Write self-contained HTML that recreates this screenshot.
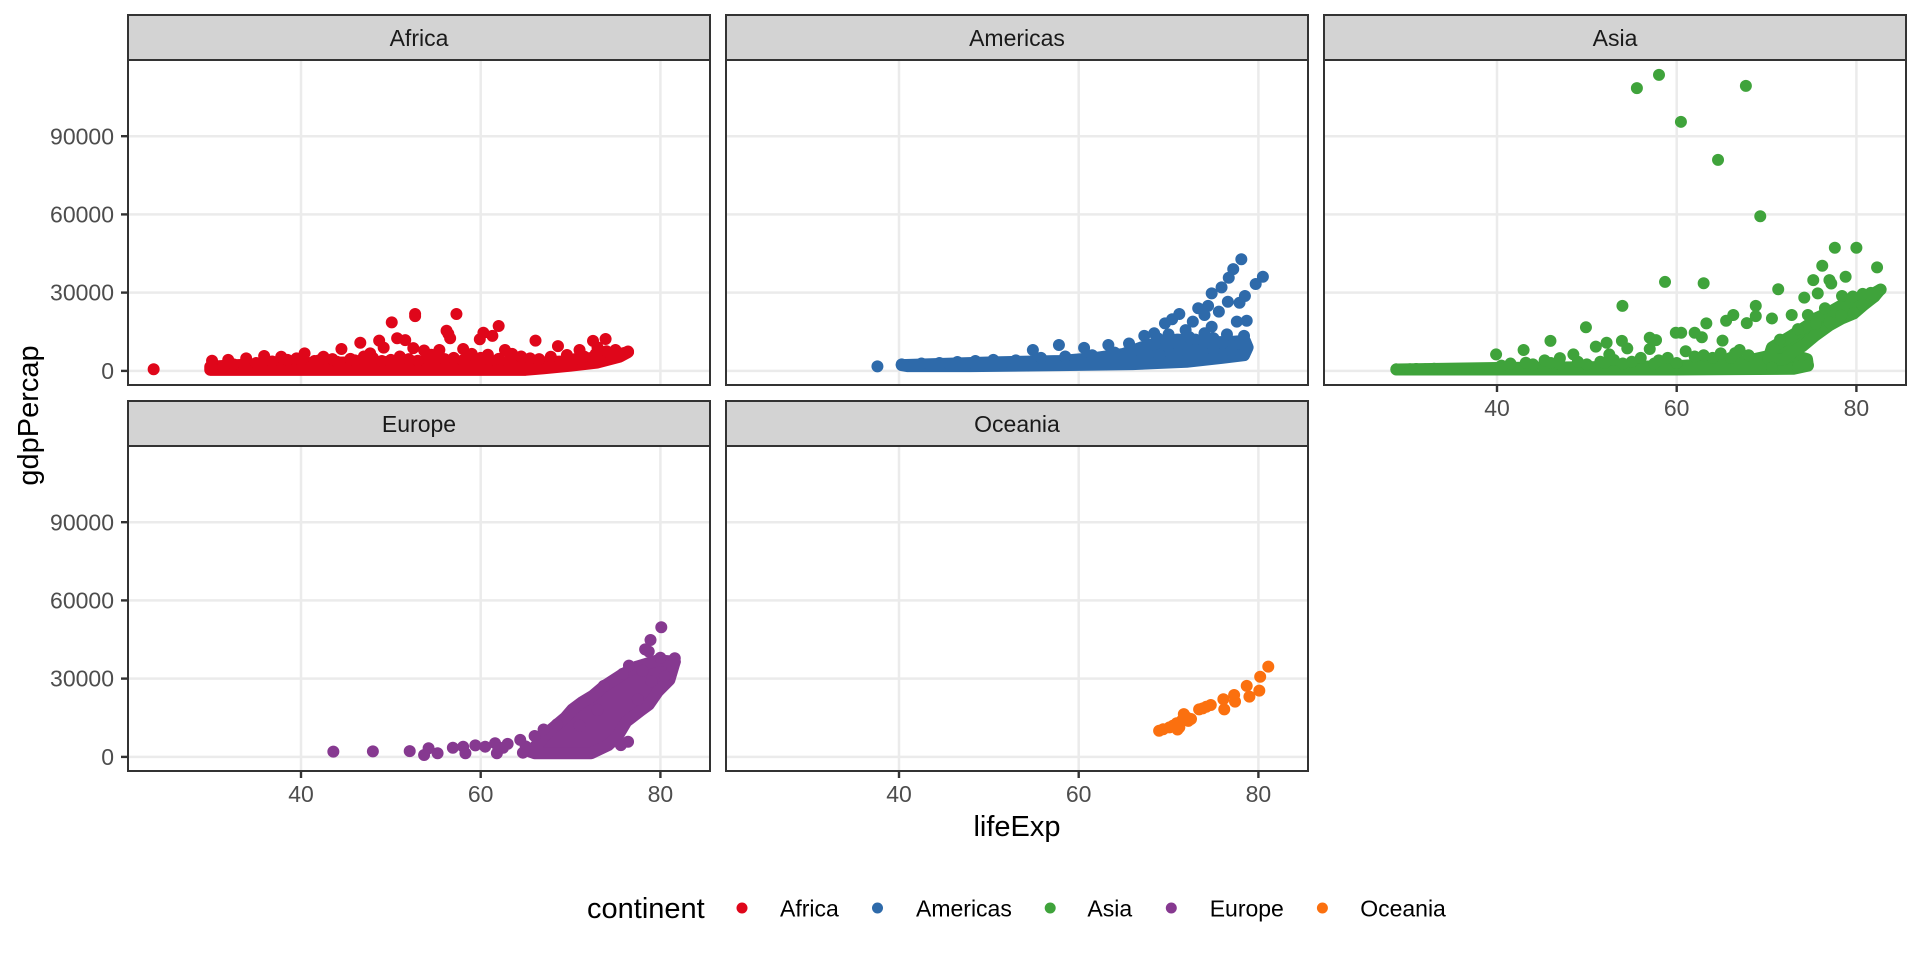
<!DOCTYPE html>
<html><head><meta charset="utf-8"><style>
html,body{margin:0;padding:0;background:#fff;}
svg{display:block;font-family:"Liberation Sans",Arial,sans-serif;}
.grid line{stroke:#EBEBEB;stroke-width:2.5;}
.tk{stroke:#333;stroke-width:2.4;}
.tl{font-size:23px;fill:#4D4D4D;}
.st{font-size:23px;fill:#1A1A1A;text-anchor:middle;}
.pt{fill:none;stroke-width:12;stroke-linecap:round;}
.poly{stroke-width:12;stroke-linejoin:round;}
</style></head><body>
<svg width="1920" height="960" viewBox="0 0 1920 960" xmlns="http://www.w3.org/2000/svg">
<rect width="1920" height="960" fill="#fff"/>
<defs>
<g id="grid" class="grid">
<rect x="0" y="0" width="582" height="325" fill="#fff"/>
<line x1="173" y1="0" x2="173" y2="325"/><line x1="352.7" y1="0" x2="352.7" y2="325"/><line x1="532.4" y1="0" x2="532.4" y2="325"/>
<line x1="0" y1="310.9" x2="582" y2="310.9"/><line x1="0" y1="232.6" x2="582" y2="232.6"/><line x1="0" y1="154.4" x2="582" y2="154.4"/><line x1="0" y1="76.2" x2="582" y2="76.2"/>
</g>
</defs>

<!-- AFRICA -->
<g transform="translate(128,60)">
<use href="#grid"/>
<g transform="translate(-186.4,310.86) scale(8.985,-2.6078)" fill="#DF061A" stroke="#DF061A">
<path class="poly" vector-effect="non-scaling-stroke" d="M29.9 0.4L29.9 1.6L33 2.2L38 2.8L45 3.2L52 3.5L58 3.6L63 3.2L66 3L69 3.6L72 4.8L75 6L76.4 7.2L75.5 5.5L73 3.2L70 2L67 1L65 0.4Z"/>
<path class="pt" vector-effect="non-scaling-stroke" d="M23.6 0.6h0M30 1h0M30.1 3.9h0M31.3 1.5h0M31.9 4.2h0M32.5 2.5h0M33.9 4.8h0M35 3h0M35.9 5.7h0M36.8 3.6h0M37.8 5.4h0M38.5 4.2h0M39.5 4.8h0M40.4 6.7h0M41.5 3.8h0M42.5 5.4h0M43.5 4.5h0M44.5 8.4h0M45.5 4.6h0M46.6 10.8h0M47.7 6.7h0M48.7 11.6h0M49.2 8.9h0M50.1 18.6h0M50.7 12.5h0M51.6 11.8h0M52.5 8.7h0M52.7 21h0M52.7 21.8h0M53.7 7.8h0M54.5 6.2h0M55.4 8h0M56.2 15.4h0M56.6 12.5h0M56.4 14.2h0M57.3 21.8h0M58.05 8.4h0M59 6.5h0M59.9 12.1h0M60.3 14.6h0M61.3 13.4h0M62 17.2h0M62.7 8h0M63.5 6.5h0M64.5 5.5h0M65.5 4.8h0M66.1 11.6h0M66.5 4.5h0M67.8 5.4h0M68.6 9.5h0M69.6 6.1h0M70.5 4.5h0M71 8h0M71.5 5.5h0M72.5 11.5h0M72.8 6.5h0M73.9 12.2h0M74 7.5h0M74.5 6.2h0M75.6 6.5h0M76.4 7.4h0M73 9h0M75 8h0M57 5h0M58 4h0M60 5h0M61 4h0M56 4.5h0M54 5h0M51 5.5h0M48 5h0M46 4h0M44 3.5h0M62 4.6h0M63 3.8h0M50 4.2h0M52 4.5h0M53 3.9h0M49 3.8h0M60.8 6.2h0M58.5 5.8h0M55 5.5h0M47 5.5h0M42 4h0M40 4h0"/>
</g>
<rect x="0" y="0" width="582" height="325" fill="none" stroke="#333" stroke-width="2"/>
<rect x="0" y="-45" width="582" height="45" fill="#D3D3D3" stroke="#333" stroke-width="2"/>
<text class="st" x="291" y="-14">Africa</text>
<g class="tk"><line x1="-7" y1="310.9" x2="0" y2="310.9"/><line x1="-7" y1="232.6" x2="0" y2="232.6"/><line x1="-7" y1="154.4" x2="0" y2="154.4"/><line x1="-7" y1="76.2" x2="0" y2="76.2"/></g>
<g class="tl" text-anchor="end"><text x="-14" y="319">0</text><text x="-14" y="240.7">30000</text><text x="-14" y="162.5">60000</text><text x="-14" y="84.3">90000</text></g>
</g>

<!-- AMERICAS -->
<g transform="translate(726,60)">
<use href="#grid"/>
<g transform="translate(-186.4,310.86) scale(8.985,-2.6078)" fill="#2E6AAA" stroke="#2E6AAA">
<path class="poly" vector-effect="non-scaling-stroke" d="M40.3 2.2L50 3.2L58 3.8L62 5L65 6.5L67 9L69 11L71 12L74 11L76.5 11L78.5 11.5L78.8 9L78.4 6L76 5L72 3.5L66 2.6L58 2.2L48 1.8L41 1.8Z"/>
<path class="pt" vector-effect="non-scaling-stroke" d="M37.6 1.7h0M40.3 2.5h0M41.5 2h0M42.5 2.8h0M43.5 2.4h0M44.5 3h0M45.6 2.6h0M46.5 3.4h0M47.5 2.5h0M48.5 3.8h0M49.5 3h0M50.5 4.2h0M51.5 3h0M53 4h0M54.9 8h0M55.8 5h0M57.8 9.9h0M58.5 5.5h0M60.6 8.8h0M61.5 6h0M63.3 9.9h0M64 7h0M65.6 10.5h0M67.3 13.4h0M68.4 14.4h0M69.6 18.2h0M70.4 19.8h0M71.2 21.8h0M71.9 15.6h0M72.7 18.9h0M73.3 24h0M74.4 24.9h0M74 21.4h0M74.8 29.7h0M75.9 32h0M76.7 35.7h0M77.2 39h0M78.1 42.8h0M79.7 33.3h0M80.5 36.1h0M76.6 26.5h0M77.9 26.1h0M78.5 28.7h0M75.6 22.7h0M74.8 16.9h0M77.6 18.9h0M78.7 19.2h0M78.4 13.4h0M77.9 10.5h0M78.7 9.5h0M76 10.8h0M74 14.4h0M72.3 13h0M70 14h0M68.8 12.5h0M73 12h0M75 12.5h0M76.5 14h0M71 7h0M69 6h0M75 8h0M77 7.5h0"/>
</g>
<rect x="0" y="0" width="582" height="325" fill="none" stroke="#333" stroke-width="2"/>
<rect x="0" y="-45" width="582" height="45" fill="#D3D3D3" stroke="#333" stroke-width="2"/>
<text class="st" x="291" y="-14">Americas</text>
</g>

<!-- ASIA -->
<g transform="translate(1324,60)">
<use href="#grid"/>
<g transform="translate(-186.4,310.86) scale(8.985,-2.6078)" fill="#3FA33B" stroke="#3FA33B">
<path class="poly" vector-effect="non-scaling-stroke" d="M28.8 0.5L40 1.1L50 1.4L60 1.8L64 2.6L68 4L70 5.5L72 7L74.5 4.5L74.6 2L73 0.8L60 0.5Z"/>
<path class="poly" vector-effect="non-scaling-stroke" d="M70.2 4.5L70.6 9L72.8 13.5L74.6 17.5L75.4 20L77 22.5L78.3 25L79.8 27L81.6 29L82.6 31L82 28.5L80.7 25L79.7 22L78.3 20L77 17.5L75.4 13.5L74 9.5L72.8 7L72 4.5Z"/>
<path class="pt" vector-effect="non-scaling-stroke" d="M28.8 0.6h0M30.3 0.6h0M31 0.7h0M32 0.6h0M33 0.8h0M34 0.7h0M35 0.7h0M36.5 0.8h0M38 0.9h0M39.9 6.3h0M40.5 2h0M42.96 8h0M43.2 3.1h0M45.3 4h0M45.95 11.5h0M47 4.9h0M48.5 6.3h0M49.9 16.7h0M51 9.3h0M52.2 10.8h0M52.5 6.3h0M53.96 24.9h0M53.9 11.5h0M54.5 8.6h0M55.57 108.4h0M57 12.7h0M57.7 11.8h0M57 8.4h0M58.03 113.5h0M58.7 34.1h0M59.9 14.6h0M60.5 14.6h0M60.47 95.5h0M62 14.6h0M62.8 12.9h0M63 33.6h0M63.3 18.2h0M64.6 80.9h0M65.1 11.6h0M65.5 19.2h0M66.3 21.4h0M67.7 109.3h0M67.8 18.3h0M68.8 24.9h0M68.8 21h0M69.3 59.3h0M70.6 20.1h0M71.3 31.3h0M72.8 21.4h0M74.6 21.4h0M74.2 28.1h0M75.7 29.7h0M75.2 34.8h0M76.2 40.3h0M77 34.8h0M77.2 33.5h0M77.6 47.2h0M78.8 36.1h0M80 47.2h0M82.3 39.7h0M78.4 28.7h0M79.6 28.5h0M80.7 29.5h0M81.6 29.9h0M82.7 31.2h0M82 28.5h0M80.7 25.3h0M79.7 22.2h0M78.3 21.2h0M77 18.6h0M64.9 6.7h0M66 5h0M62 5.5h0M58 4h0M55 3.5h0M52 3h0M50 2.5h0M47 2.5h0M60 3h0M56 5h0M53 4.2h0M61 7.5h0M63 6h0M67 8h0M68 6h0M73.5 1.6h0M74.6 2.2h0M70.6 1.2h0M44 2.5h0M49 3.5h0M71.5 12h0M73.5 16h0M75.5 18h0M76.5 24h0M41.5 2.8h0M46 3h0M51.5 3.5h0M54 2.8h0M57.5 2.8h0M59 5h0M64 5h0M66.5 6.8h0"/>
</g>
<rect x="0" y="0" width="582" height="325" fill="none" stroke="#333" stroke-width="2"/>
<rect x="0" y="-45" width="582" height="45" fill="#D3D3D3" stroke="#333" stroke-width="2"/>
<text class="st" x="291" y="-14">Asia</text>
<g class="tk"><line x1="173" y1="325" x2="173" y2="332"/><line x1="352.7" y1="325" x2="352.7" y2="332"/><line x1="532.4" y1="325" x2="532.4" y2="332"/></g>
<g class="tl" text-anchor="middle"><text x="173" y="356">40</text><text x="352.7" y="356">60</text><text x="532.4" y="356">80</text></g>
</g>

<!-- EUROPE -->
<g transform="translate(128,446)">
<use href="#grid"/>
<g transform="translate(-186.4,310.86) scale(8.985,-2.6078)" fill="#863990" stroke="#863990">
<path class="poly" vector-effect="non-scaling-stroke" d="M65.5 2L66.5 5.5L67.5 9.5L69.4 15L70.2 18.2L71.3 21L72.5 23.5L73.7 27L75.7 31.5L77.3 34.5L79.7 37L81.6 36.5L81 29.5L79.7 25L78.7 20L77.9 18L76.2 13.5L75.2 7.7L74.2 4.5L72.3 1.4L66 1.4Z"/>
<path class="pt" vector-effect="non-scaling-stroke" d="M43.6 2h0M48 2.1h0M52.1 2.2h0M53.7 0.7h0M54.2 3.3h0M55.2 1.4h0M56.9 3.5h0M58.05 3.9h0M58.3 1.4h0M59.4 4.4h0M60.5 3.9h0M61.6 5.2h0M61.8 1.4h0M63 5h0M64.4 6.5h0M64.7 1.6h0M62.5 3.5h0M65 4h0M66 8h0M67 10.5h0M80.1 49.7h0M78.9 44.8h0M78.3 41.2h0M78.7 40.4h0M81.6 37.8h0M81.6 36.5h0M75.8 31.8h0M73.7 27.2h0M75.6 4.5h0M76.4 5.8h0M78 33h0M80 38h0M76.5 35h0M80.5 31h0M79 29h0M77.5 22h0M71 12h0M73 18h0M68.5 12.5h0"/>
</g>
<rect x="0" y="0" width="582" height="325" fill="none" stroke="#333" stroke-width="2"/>
<rect x="0" y="-45" width="582" height="45" fill="#D3D3D3" stroke="#333" stroke-width="2"/>
<text class="st" x="291" y="-14">Europe</text>
<g class="tk"><line x1="-7" y1="310.9" x2="0" y2="310.9"/><line x1="-7" y1="232.6" x2="0" y2="232.6"/><line x1="-7" y1="154.4" x2="0" y2="154.4"/><line x1="-7" y1="76.2" x2="0" y2="76.2"/>
<line x1="173" y1="325" x2="173" y2="332"/><line x1="352.7" y1="325" x2="352.7" y2="332"/><line x1="532.4" y1="325" x2="532.4" y2="332"/></g>
<g class="tl" text-anchor="end"><text x="-14" y="319">0</text><text x="-14" y="240.7">30000</text><text x="-14" y="162.5">60000</text><text x="-14" y="84.3">90000</text></g>
<g class="tl" text-anchor="middle"><text x="173" y="356">40</text><text x="352.7" y="356">60</text><text x="532.4" y="356">80</text></g>
</g>

<!-- OCEANIA -->
<g transform="translate(726,446)">
<use href="#grid"/>
<g transform="translate(-186.4,310.86) scale(8.985,-2.6078)" fill="#FB700F" stroke="#FB700F">
<path class="pt" vector-effect="non-scaling-stroke" d="M68.95 10h0M69.4 10.6h0M70.1 11.3h0M70.9 12.9h0M71.2 11.3h0M71 10.5h0M71.7 16.4h0M72 15.2h0M71.5 14h0M72.2 13.8h0M73.4 18.2h0M73.8 18.6h0M74.2 19.2h0M74.7 19.9h0M76.1 22.1h0M76.2 18.2h0M77.3 23.7h0M77.4 21.2h0M78.7 27.2h0M79 23.1h0M80.1 25.4h0M80.2 30.7h0M81.1 34.6h0M70.5 12h0M72.5 14.5h0"/>
</g>
<rect x="0" y="0" width="582" height="325" fill="none" stroke="#333" stroke-width="2"/>
<rect x="0" y="-45" width="582" height="45" fill="#D3D3D3" stroke="#333" stroke-width="2"/>
<text class="st" x="291" y="-14">Oceania</text>
<g class="tk"><line x1="173" y1="325" x2="173" y2="332"/><line x1="352.7" y1="325" x2="352.7" y2="332"/><line x1="532.4" y1="325" x2="532.4" y2="332"/></g>
<g class="tl" text-anchor="middle"><text x="173" y="356">40</text><text x="352.7" y="356">60</text><text x="532.4" y="356">80</text></g>
</g>

<!-- axis titles -->
<text x="1017" y="836" font-size="29" text-anchor="middle" fill="#000">lifeExp</text>
<text transform="translate(38,415.5) rotate(-90)" font-size="29" text-anchor="middle" fill="#000">gdpPercap</text>

<!-- legend -->
<text x="587" y="918" font-size="29" fill="#000">continent</text>
<circle cx="742" cy="908" r="5.5" fill="#DF061A"/>
<circle cx="877.5" cy="908" r="5.5" fill="#2E6AAA"/>
<circle cx="1050.2" cy="908" r="5.5" fill="#3FA33B"/>
<circle cx="1171.3" cy="908" r="5.5" fill="#863990"/>
<circle cx="1322.4" cy="908" r="5.5" fill="#FB700F"/>
<g font-size="23" fill="#000">
<text x="780" y="916.5">Africa</text>
<text x="916" y="916.5">Americas</text>
<text x="1087.4" y="916.5">Asia</text>
<text x="1209.7" y="916.5">Europe</text>
<text x="1360.2" y="916.5">Oceania</text>
</g>
</svg>
</body></html>
